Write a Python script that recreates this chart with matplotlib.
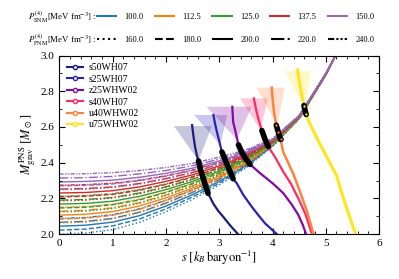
import numpy as np
import matplotlib
matplotlib.use('Agg')
import matplotlib.pyplot as plt
from matplotlib.lines import Line2D

plt.rcParams['font.family'] = 'serif'
plt.rcParams['font.serif'] = ['Liberation Serif', 'DejaVu Serif']
plt.rcParams['mathtext.fontset'] = 'stix'

# EOS parameter families
snm_values = [100.0, 112.5, 125.0, 137.5, 150.0]
pnm_values = [160.0, 180.0, 200.0, 220.0, 240.0]
snm_colors = ['#1f77b4', '#ff7f0e', '#2ca02c', '#d62728', '#9467bd']
pnm_styles = [':', '--', '-', '-.', (0, (3, 1, 1, 1, 1, 1))]

# M_grav(s) for each EOS, rows = P_PNM 160..240
s_grid = [0.0, 0.5, 1.0, 1.5, 2.0, 2.5, 3.0, 3.5, 4.0, 4.5, 5.0, 5.2]
mass_snm100 = [
    [2.000, 2.006, 2.025, 2.065, 2.125, 2.195, 2.275, 2.370, 2.490, 2.645, 2.890, 3.010],
    [2.022, 2.028, 2.046, 2.084, 2.141, 2.208, 2.285, 2.377, 2.493, 2.646, 2.891, 3.010],
    [2.044, 2.050, 2.067, 2.103, 2.157, 2.221, 2.295, 2.383, 2.496, 2.648, 2.891, 3.010],
    [2.066, 2.071, 2.088, 2.122, 2.174, 2.234, 2.306, 2.390, 2.499, 2.649, 2.892, 3.010],
    [2.088, 2.093, 2.109, 2.141, 2.190, 2.248, 2.316, 2.396, 2.502, 2.650, 2.893, 3.010],
]
mass_snm112 = [
    [2.062, 2.067, 2.084, 2.119, 2.171, 2.232, 2.304, 2.389, 2.498, 2.649, 2.892, 3.010],
    [2.084, 2.089, 2.105, 2.138, 2.187, 2.245, 2.314, 2.395, 2.501, 2.650, 2.893, 3.010],
    [2.106, 2.111, 2.126, 2.157, 2.203, 2.258, 2.324, 2.402, 2.504, 2.651, 2.893, 3.010],
    [2.128, 2.133, 2.147, 2.176, 2.219, 2.271, 2.334, 2.408, 2.507, 2.653, 2.894, 3.010],
    [2.150, 2.154, 2.167, 2.195, 2.236, 2.285, 2.345, 2.415, 2.510, 2.654, 2.895, 3.010],
]
mass_snm125 = [
    [2.124, 2.129, 2.143, 2.172, 2.216, 2.269, 2.332, 2.407, 2.507, 2.652, 2.894, 3.010],
    [2.146, 2.150, 2.164, 2.191, 2.233, 2.282, 2.343, 2.414, 2.510, 2.654, 2.894, 3.010],
    [2.168, 2.172, 2.184, 2.211, 2.249, 2.295, 2.353, 2.420, 2.513, 2.655, 2.895, 3.010],
    [2.190, 2.194, 2.205, 2.230, 2.265, 2.308, 2.363, 2.427, 2.516, 2.656, 2.896, 3.010],
    [2.212, 2.216, 2.226, 2.249, 2.281, 2.322, 2.373, 2.433, 2.518, 2.658, 2.896, 3.010],
]
mass_snm137 = [
    [2.186, 2.190, 2.202, 2.226, 2.262, 2.306, 2.361, 2.426, 2.515, 2.656, 2.896, 3.010],
    [2.208, 2.212, 2.222, 2.245, 2.278, 2.319, 2.371, 2.432, 2.518, 2.658, 2.896, 3.010],
    [2.230, 2.233, 2.243, 2.264, 2.295, 2.332, 2.382, 2.439, 2.521, 2.659, 2.897, 3.010],
    [2.252, 2.255, 2.264, 2.283, 2.311, 2.345, 2.392, 2.445, 2.524, 2.660, 2.898, 3.010],
    [2.274, 2.277, 2.285, 2.302, 2.327, 2.359, 2.402, 2.452, 2.527, 2.661, 2.898, 3.010],
]
mass_snm150 = [
    [2.248, 2.251, 2.260, 2.280, 2.308, 2.343, 2.390, 2.444, 2.523, 2.660, 2.897, 3.010],
    [2.270, 2.273, 2.281, 2.299, 2.324, 2.356, 2.400, 2.451, 2.526, 2.661, 2.898, 3.010],
    [2.292, 2.295, 2.302, 2.318, 2.340, 2.369, 2.410, 2.457, 2.529, 2.663, 2.899, 3.010],
    [2.314, 2.316, 2.323, 2.337, 2.356, 2.383, 2.420, 2.464, 2.532, 2.664, 2.899, 3.010],
    [2.336, 2.338, 2.344, 2.356, 2.373, 2.396, 2.431, 2.471, 2.535, 2.665, 2.900, 3.010],
]
band = [mass_snm100, mass_snm112, mass_snm125, mass_snm137, mass_snm150]

# PNS tracks of the progenitor models
models = ['s50WH07', 's25WH07', 'z25WHW02', 's40WH07', 'u40WHW02', 'u75WHW02']
model_colors = ['#1c1c7a', '#2a22b0', '#820aa3', '#ff2a62', '#ff8140', '#ffe61a']

s_s50 = [2.49, 2.515, 2.545, 2.58, 2.61, 2.65, 2.72, 2.79, 2.89, 2.98, 3.08, 3.20, 3.35]
m_s50 = [2.61, 2.55, 2.49, 2.44, 2.41, 2.36, 2.29, 2.228, 2.17, 2.13, 2.095, 2.05, 2.0]
s_s25 = [2.89, 2.92, 2.95, 3.00, 3.05, 3.12, 3.19, 3.26, 3.33, 3.45, 3.61, 3.75, 3.86, 3.97, 4.08]
m_s25 = [2.667, 2.62, 2.58, 2.52, 2.46, 2.41, 2.36, 2.31, 2.284, 2.22, 2.153, 2.10, 2.06, 2.03, 2.0]
s_z25 = [3.245, 3.26, 3.30, 3.36, 3.42, 3.50, 3.58, 3.77, 4.0, 4.2, 4.35, 4.48, 4.57, 4.63]
m_z25 = [2.713, 2.63, 2.58, 2.50, 2.46, 2.42, 2.39, 2.34, 2.285, 2.23, 2.17, 2.11, 2.05, 2.0]
s_s40 = [3.65, 3.69, 3.73, 3.80, 3.86, 3.92, 4.05, 4.20, 4.35, 4.50, 4.62, 4.74]
m_s40 = [2.76, 2.70, 2.65, 2.58, 2.53, 2.49, 2.43, 2.35, 2.28, 2.19, 2.11, 2.0]
s_u40 = [3.985, 4.00, 4.03, 4.07, 4.11, 4.15, 4.20, 4.30, 4.40, 4.50, 4.64, 4.77]
m_u40 = [2.82, 2.76, 2.68, 2.61, 2.57, 2.53, 2.46, 2.396, 2.33, 2.25, 2.134, 2.0]
s_u75 = [4.47, 4.50, 4.55, 4.59, 4.63, 4.70, 4.78, 4.88, 4.97, 5.08, 5.20, 5.30, 5.42, 5.56]
m_u75 = [2.92, 2.86, 2.78, 2.72, 2.67, 2.62, 2.57, 2.51, 2.46, 2.396, 2.33, 2.23, 2.12, 2.0]
track_s = [s_s50, s_s25, s_z25, s_s40, s_u40, s_u75]
track_m = [m_s50, m_s25, m_z25, m_s40, m_u40, m_u75]
track_lw = [1.6, 1.6, 1.6, 1.6, 1.8, 2.2]

# mass range where each track crosses the EOS band
hit_lo = [2.228, 2.31, 2.39, 2.49, 2.53, 2.67]
hit_hi = [2.41, 2.46, 2.50, 2.58, 2.61, 2.72]

# shaded uncertainty wedges
tri_top = [2.605, 2.667, 2.713, 2.76, 2.82, 2.913]
tri_left = [2.15, 2.53, 2.76, 3.39, 3.70, 4.23]
tri_right = [2.86, 3.15, 3.61, 3.92, 4.23, 4.72]
tri_apex_s = [2.61, 3.02, 3.33, 3.77, 4.09, 4.60]
tri_apex_m = [2.41, 2.50, 2.53, 2.585, 2.61, 2.71]

fig = plt.figure(figsize=(3.99, 2.79), dpi=100)
ax = fig.add_axes([0.149, 0.161, 0.801, 0.640])

for c, curves in enumerate(band):
    for p, m in enumerate(curves):
        ax.plot(s_grid, m, color=snm_colors[c], ls=pnm_styles[p], lw=1.0, zorder=1)

for i, name in enumerate(models):
    col = model_colors[i]
    ax.fill([tri_left[i], tri_right[i], tri_apex_s[i]],
            [tri_top[i], tri_top[i], tri_apex_m[i]],
            color=col, alpha=0.25, lw=0, zorder=2)
    ax.plot(track_s[i], track_m[i], color=col, lw=track_lw[i], zorder=3)
    s_arr = np.array(track_s[i])
    m_arr = np.array(track_m[i])
    sel = (m_arr >= hit_lo[i] - 1e-9) & (m_arr <= hit_hi[i] + 1e-9)
    ax.plot(s_arr[sel], m_arr[sel], color='k', lw=4, solid_capstyle='round', zorder=4)
    if i >= 4:
        ax.plot(s_arr[sel], m_arr[sel], 'o', ms=2.5, mfc=col, mec='k', mew=0.8, zorder=5)

ax.set_xlim(0, 6)
ax.set_ylim(2.0, 3.0)
ax.set_xticks(range(7))
ax.set_yticks([2.0, 2.2, 2.4, 2.6, 2.8, 3.0])
ax.set_xticks(np.arange(0, 6.01, 0.2), minor=True)
ax.set_yticks(np.arange(2.0, 3.01, 0.1), minor=True)
ax.tick_params(which='both', direction='in', top=True, right=True, labelsize=8)
ax.tick_params(which='major', length=4)
ax.tick_params(which='minor', length=2)
ax.set_xlabel(r'$s\ [k_B\,\mathrm{baryon}^{-1}]$', fontsize=9, labelpad=1)
ax.set_ylabel(r'$M_{\mathrm{grav}}^{\mathrm{PNS}}\ [M_\odot]$', fontsize=9, labelpad=2)

handles = [Line2D([], [], color=model_colors[i], lw=1.5, marker='o', ms=3,
                  mfc='white', mec=model_colors[i], mew=1) for i in range(len(models))]
ax.legend(handles, models, loc='upper left', frameon=False, fontsize=7,
          handlelength=1.6, handletextpad=0.6, labelspacing=0.25,
          borderaxespad=0.5, borderpad=0.3)

# parameter legends above the axes
snm_handles = [Line2D([], [], color=c, lw=1.5) for c in snm_colors]
pnm_handles = [Line2D([], [], color='k', lw=1.5, ls=ls) for ls in pnm_styles]
row_y = [1 - 17 / 279, 1 - 40 / 279]
fig.text(0.07, row_y[0], r'$P^{(4)}_{\mathrm{SNM}}$[MeV fm$^{-3}$] :', fontsize=6.3, va='center')
fig.text(0.07, row_y[1], r'$P^{(4)}_{\mathrm{PNM}}$[MeV fm$^{-3}$] :', fontsize=6.3, va='center')
for hs, vals, y in [(snm_handles, snm_values, row_y[0]), (pnm_handles, pnm_values, row_y[1])]:
    fig.legend(hs, ['%.1f' % v for v in vals], ncol=5, loc='center left',
               bbox_to_anchor=(97 / 399, y), frameon=False, fontsize=6,
               handlelength=2.3, handletextpad=1.0, columnspacing=1.35,
               borderpad=0, borderaxespad=0)

fig.savefig('out.png', dpi=100)
